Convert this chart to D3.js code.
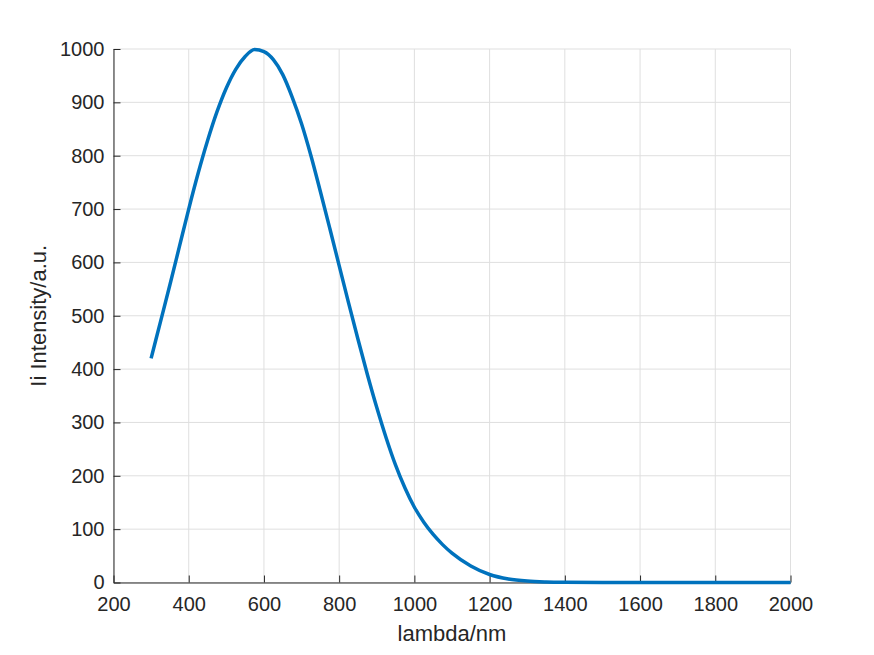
<!DOCTYPE html>
<html>
<head>
<meta charset="utf-8">
<script src="https://cdn.jsdelivr.net/npm/d3@7"></script>
<style>
  body { margin: 0; background: #fff; }
  svg { display: block; }
  text { font-family: "Liberation Sans", Arial, Helvetica, sans-serif; fill: #262626; }
</style>
</head>
<body>
<svg id="chart" width="874" height="655"></svg>
<script>
// wavelength samples (nm) and intensity
const lambda = [300, 325, 350, 375, 400, 425, 450, 475, 500, 525, 550, 575, 600, 625, 650, 675, 700, 725, 750, 775, 800,
    825, 850, 875, 900, 925, 950, 975, 1000, 1025, 1050, 1075, 1100, 1150, 1200, 1250, 1300, 1350, 1400, 1500,
    1600, 1700, 1800, 1900, 2000];
const intensity = [420, 489, 558, 629, 700, 767, 828, 882, 927, 962, 986, 999, 995, 980, 952, 910, 860, 800, 733, 664, 594,
    524, 456, 390, 328, 271, 220, 177, 141, 113, 90, 71, 55, 31, 15, 6.5, 2.6, 1, 0.4, 0.05,
    0, 0, 0, 0, 0];

const xTicks = [200, 400, 600, 800, 1000, 1200, 1400, 1600, 1800, 2000];
const yTicks = [0, 100, 200, 300, 400, 500, 600, 700, 800, 900, 1000];

const svg = d3.select("#chart");
const plotLeft = 113.5, plotRight = 790.5, plotTop = 49, plotBottom = 582.5;

const x = d3.scaleLinear().domain([200, 2000]).range([plotLeft, plotRight]);
const y = d3.scaleLinear().domain([0, 1000]).range([plotBottom, plotTop]);

// grid
const grid = svg.append("g");
grid.selectAll(".gx").data(xTicks).enter().append("line")
    .attr("x1", d => x(d)).attr("x2", d => x(d))
    .attr("y1", plotTop).attr("y2", plotBottom)
    .style("stroke", "#dfdfdf").style("stroke-width", 1);
grid.selectAll(".gy").data(yTicks).enter().append("line")
    .attr("x1", plotLeft).attr("x2", plotRight)
    .attr("y1", d => y(d)).attr("y2", d => y(d))
    .style("stroke", "#dfdfdf").style("stroke-width", 1);

// axes, ticks pointing inward like matlab
const xAxis = svg.append("g")
    .attr("transform", `translate(0,${plotBottom})`)
    .call(d3.axisBottom(x).tickValues(xTicks).tickFormat(d3.format("d"))
        .tickSizeInner(-7).tickSizeOuter(0).tickPadding(14));
const yAxis = svg.append("g")
    .attr("transform", `translate(${plotLeft},0)`)
    .call(d3.axisLeft(y).tickValues(yTicks).tickFormat(d3.format("d"))
        .tickSizeInner(-7).tickSizeOuter(0).tickPadding(9));

[xAxis, yAxis].forEach(a => {
    a.select(".domain").style("stroke", "#262626").style("stroke-width", 1);
    a.selectAll(".tick line").style("stroke", "#262626");
    a.selectAll(".tick text").style("font-size", "20px").style("fill", "#262626");
});

// curve
const line = d3.line()
    .x((d, i) => x(lambda[i]))
    .y(d => y(d))
    .curve(d3.curveMonotoneX);

svg.append("path")
    .datum(intensity)
    .attr("d", line)
    .style("fill", "none")
    .style("stroke", "#0072BD")
    .style("stroke-width", 3.5);

// labels
svg.append("text")
    .attr("x", (plotLeft + plotRight) / 2)
    .attr("y", 641)
    .attr("text-anchor", "middle")
    .style("font-size", "22px")
    .text("lambda/nm");

svg.append("text")
    .attr("transform", `translate(46,${(plotTop + plotBottom) / 2}) rotate(-90)`)
    .attr("text-anchor", "middle")
    .style("font-size", "22px")
    .text("Ii Intensity/a.u.");
</script>
</body>
</html>
